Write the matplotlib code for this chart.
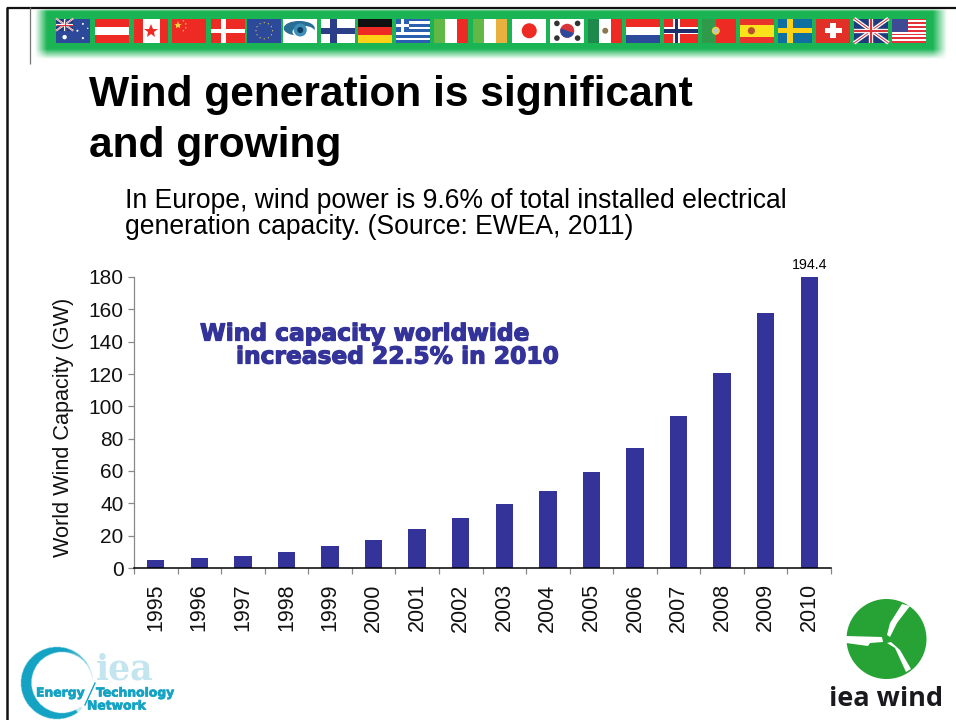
import numpy as np
import matplotlib
matplotlib.use("Agg")
import matplotlib.pyplot as plt
import matplotlib.patheffects as pe
from matplotlib.patches import Rectangle, Circle, Ellipse, Polygon

years = [str(y) for y in range(1995, 2011)]
capacity = [4.8, 6.1, 7.5, 10.2, 13.6, 17.4, 23.9, 31.1, 39.3, 47.6, 59.1, 74.0, 93.9, 120.7, 158.0, 194.4]
yticks = list(range(0, 181, 20))
flag_names = ["au", "at", "ca", "cn", "dk", "eu", "eye", "fi", "de", "gr", "it", "ie",
              "jp", "kr", "mx", "nl", "no", "pt", "es", "se", "ch", "uk", "us"]
flag_lefts = [56, 95, 134, 172, 211, 247, 283, 321, 358, 396, 434, 473,
              512, 550, 588, 626, 664, 702, 740, 778, 816, 854, 892]

plt.rcParams['font.family'] = ['Liberation Sans', 'DejaVu Sans']
W, H = 956, 720
fig = plt.figure(figsize=(W / 100, H / 100), dpi=100, facecolor='white')

ov = fig.add_axes([0, 0, 1, 1], zorder=1)
ov.set_axis_off()

RED, BLUE, NAVY = '#ee2a24', '#2d4a9a', '#1f3a7d'


def rgba_image(x0, x1, y0, y1, rgb, alpha_fn, z=1):
    xs, ys = np.meshgrid(np.arange(x0, x1, 0.5) + .25, np.arange(y0, y1, 0.5) + .25)
    a = alpha_fn(xs, ys)
    img = np.zeros(a.shape + (4,))
    img[..., :3] = matplotlib.colors.to_rgb(rgb)
    img[..., 3] = a
    ov.imshow(img, extent=(x0, x1, y1, y0), aspect='auto', zorder=z, interpolation='bilinear')


def banner_alpha(x, y):
    return (np.clip((x - 35) / 12, 0, 1) * np.clip((947 - x) / 14, 0, 1)
            * np.clip((59 - y) / 10, 0, 1) * np.clip((y - 9) / 2, 0, 1))


rgba_image(30, 950, 6, 62, '#1cb454', banner_alpha, z=1)


def flag(name, x, y=18.5, w=34.5, h=24.5):
    def r(a, b, c, d, col, z=3):
        ov.add_patch(Rectangle((x + a * w, y + b * h), (c - a) * w, (d - b) * h, fc=col, ec='none', zorder=z))

    def dot(a, b, rad, col, z=4):
        ov.add_patch(Ellipse((x + a * w, y + b * h), 2 * rad, 2 * rad, fc=col, ec='none', zorder=z))

    def ln(a, b, c, d, col, lw, z=4):
        ov.plot([x + a * w, x + c * w], [y + b * h, y + d * h], color=col, lw=lw, zorder=z, solid_capstyle='butt')

    def union(a0, b0, a1, b1, lw=1.0):
        r(a0, b0, a1, b1, NAVY)
        ln(a0, b0, a1, b1, 'white', lw * 2.2)
        ln(a0, b1, a1, b0, 'white', lw * 2.2)
        ln(a0, b0, a1, b1, '#d8343a', lw * .6, z=5)
        ln(a0, b1, a1, b0, '#d8343a', lw * .6, z=5)
        mx, my = (a0 + a1) / 2, (b0 + b1) / 2
        ln(mx, b0, mx, b1, 'white', lw * 2.6, z=5)
        ln(a0, my, a1, my, 'white', lw * 2.6, z=5)
        ln(mx, b0, mx, b1, '#d8343a', lw * 1.3, z=6)
        ln(a0, my, a1, my, '#d8343a', lw * 1.3, z=6)

    def cross(bg, fg, lw_v=.18, lw_h=.24, cx=.36, inner=None):
        r(0, 0, 1, 1, bg)
        r(cx - lw_v / 2, 0, cx + lw_v / 2, 1, fg)
        r(0, .5 - lw_h / 2, 1, .5 + lw_h / 2, fg)
        if inner:
            r(cx - lw_v / 4, 0, cx + lw_v / 4, 1, inner, z=4)
            r(0, .5 - lw_h / 4, 1, .5 + lw_h / 4, inner, z=4)

    if name == 'au':
        r(0, 0, 1, 1, BLUE)
        union(0, 0, .5, .5, .6)
        for a, b, s in [(.25, .76, 2.2), (.62, .5, 1), (.78, .22, 1), (.92, .4, .7), (.78, .8, 1.1)]:
            dot(a, b, s, 'white')
    elif name == 'at':
        r(0, 0, 1, 1, RED)
        r(0, .33, 1, .67, 'white')
    elif name == 'ca':
        r(0, 0, 1, 1, 'white')
        r(0, 0, .25, 1, RED)
        r(.75, 0, 1, 1, RED)
        ov.plot([x + .5 * w], [y + .5 * h], marker='*', ms=10, color=RED, mew=0, zorder=4)
    elif name == 'cn':
        r(0, 0, 1, 1, RED)
        ov.plot([x + .17 * w], [y + .27 * h], marker='*', ms=6, color='#f8d23a', mew=0, zorder=4)
        for a, b in [(.33, .1), (.4, .22), (.4, .38), (.33, .5)]:
            dot(a, b, .7, '#f8d23a')
    elif name == 'dk':
        cross(RED, 'white', .13, .17)
    elif name == 'eu':
        r(0, 0, 1, 1, BLUE)
        for t in np.arange(12) * np.pi / 6:
            dot(.5 + .24 * np.cos(t), .5 + .33 * np.sin(t), .6, '#e8d24a')
    elif name == 'eye':
        r(0, 0, 1, 1, 'white')
        ov.add_patch(Ellipse((x + .47 * w, y + .4 * h), w * .9, h * .6, fc='#2a6e96', ec='none', zorder=4))
        ov.add_patch(Ellipse((x + .6 * w, y + .55 * h), w * .65, h * .5, fc='white', ec='none', zorder=5))
        dot(.5, .47, 6.5, '#3d8fb8', z=6)
        dot(.5, .47, 3, '#0d3d60', z=7)
    elif name == 'fi':
        cross('white', '#2a3f87', .2, .26)
    elif name == 'de':
        r(0, 0, 1, .34, '#111111')
        r(0, .34, 1, .67, RED)
        r(0, .67, 1, 1, '#fcd116')
    elif name == 'gr':
        r(0, 0, 1, 1, 'white')
        for i in range(0, 9, 2):
            r(0, i / 9, 1, (i + 1) / 9, '#2b5fb0')
        r(0, 0, .38, 5 / 9, '#2b5fb0', z=4)
        r(.15, 0, .23, 5 / 9, 'white', z=5)
        r(0, 2 / 9, .38, 3 / 9, 'white', z=5)
    elif name == 'it':
        r(0, 0, .33, 1, '#62b846')
        r(.33, 0, .67, 1, 'white')
        r(.67, 0, 1, 1, RED)
    elif name == 'ie':
        r(0, 0, .33, 1, '#62b846')
        r(.33, 0, .67, 1, 'white')
        r(.67, 0, 1, 1, '#e8b03c')
    elif name == 'jp':
        r(0, 0, 1, 1, 'white')
        dot(.5, .5, 7.5, RED)
    elif name == 'kr':
        r(0, 0, 1, 1, 'white')
        ov.add_patch(Ellipse((x + .5 * w, y + .5 * h), 14, 14, fc='#d8343a', ec='none', zorder=4))
        ov.add_patch(matplotlib.patches.Wedge((x + .5 * w, y + .5 * h), 7, 20, 200, fc='#2d4a9a', ec='none', zorder=5))
        for a, b in [(.2, .2), (.8, .2), (.2, .8), (.8, .8)]:
            dot(a, b, 2.8, '#333333')
    elif name == 'mx':
        r(0, 0, .33, 1, '#1d8a4c')
        r(.33, 0, .67, 1, 'white')
        r(.67, 0, 1, 1, RED)
        dot(.5, .5, 3, '#8a7a50')
    elif name == 'nl':
        r(0, 0, 1, .34, RED)
        r(0, .34, 1, .67, 'white')
        r(0, .67, 1, 1, BLUE)
    elif name == 'no':
        cross(RED, 'white', .22, .3, inner='#1f2f6e')
    elif name == 'pt':
        r(0, 0, .4, 1, '#2f9a4a')
        r(.4, 0, 1, 1, RED)
        dot(.4, .5, 4, '#e8d24a')
        dot(.4, .5, 2.4, '#b8c4d0', z=5)
    elif name == 'es':
        r(0, 0, 1, 1, '#e8342a')
        r(0, .25, 1, .75, '#fbe31c')
        dot(.33, .5, 3.6, '#b8502a')
    elif name == 'se':
        cross('#0f6fa0', '#fcd116', .17, .22)
    elif name == 'ch':
        r(0, 0, 1, 1, '#e03028')
        r(.41, .2, .59, .8, 'white')
        r(.25, .39, .75, .61, 'white')
    elif name == 'uk':
        union(0, 0, 1, 1, 1.2)
    elif name == 'us':
        r(0, 0, 1, 1, 'white')
        for i in range(0, 13, 2):
            r(0, i / 13, 1, (i + 1) / 13, '#e5323a')
        r(0, 0, .45, 7 / 13, '#3e4a94', z=4)


for nm, lx in zip(flag_names, flag_lefts):
    flag(nm, lx)

ov.plot([7, 956], [7.5, 7.5], color='#111111', lw=1.6, zorder=6, solid_capstyle='butt')
ov.plot([7.5, 7.5], [7, 720], color='#111111', lw=1.8, zorder=6, solid_capstyle='butt')
ov.plot([30.5, 30.5], [7, 64], color='#777777', lw=0.9, zorder=6, solid_capstyle='butt')

ov.text(89, 95, "Wind generation is significant", fontsize=30.6, fontweight='bold', color='black', va='center', ha='left')
ov.text(89, 146, "and growing", fontsize=30.6, fontweight='bold', color='black', va='center', ha='left')
ov.text(125, 201, "In Europe, wind power is 9.6% of total installed electrical", fontsize=19.1, color='black', va='center', ha='left')
ov.text(125, 227, "generation capacity. (Source: EWEA, 2011)", fontsize=19.1, color='black', va='center', ha='left')

# IEA Energy Technology Network logo
cx, cy = 57.0, 683.0
def crescent_alpha(x, y):
    out = np.hypot(x - cx, y - cy) <= 36
    inn = np.hypot(x - (cx + 5), y - (cy - 0.5)) <= 30.5
    t = np.degrees(np.arctan2(-(y - cy), x - cx))
    fade = np.where((t < 75) & (t > -55), 0.25 + 0.75 * np.clip((t - 5) / 70, 0, 1), 1.0)
    fade = np.where((t <= 5) & (t > -45), 0.0, fade)
    return (out & ~inn) * fade
rgba_image(15, 100, 642, 720, '#15a3c4', crescent_alpha, z=2)
ov.plot([85, 95], [705, 683], color='#15a3c4', lw=1.0, zorder=2)
ov.text(96, 680, "iea", fontsize=25, family='DejaVu Serif', fontweight='bold', color='#c3e5ef', va='baseline', ha='left', zorder=2)
logo_fx = [pe.withStroke(linewidth=0.5, foreground='#15a3c4')]
for s, lx, ly in [("Energy", 36, 696.5), ("Technology", 96, 696.5), ("Network", 87, 709.5)]:
    ov.text(lx, ly, s, fontsize=8.9, family='DejaVu Sans', fontweight='bold', color='#15a3c4',
            va='baseline', ha='left', zorder=3, path_effects=logo_fx)

# IEA wind logo
ov.add_patch(Circle((886.5, 639), 40, fc='#27a234', ec='none', zorder=2))
for pts in [[(846, 636), (882, 637), (883, 642), (870, 643), (868, 646), (846, 643)],
            [(902, 604), (890, 623), (887, 635), (890, 637), (897, 623), (910, 606)],
            [(887, 643), (895, 648), (906, 672), (911, 669), (900, 650), (891, 642)]]:
    ov.add_patch(Polygon(pts, closed=True, fc='white', ec='none', zorder=3))
ov.text(886.5, 706, "iea wind", fontsize=19.5, family='Open Sans', fontweight='bold', color='#1a1a1e', va='baseline', ha='center', zorder=3)

ov.set_xlim(0, W)
ov.set_ylim(H, 0)

# chart
left, right, top, bottom = 134, 831, 277, 568
ax = fig.add_axes([left / W, 1 - bottom / H, (right - left) / W, (bottom - top) / H], zorder=2)
ax.patch.set_alpha(0)
x = np.arange(len(years))
ax.bar(x, capacity, width=0.4, color='#333399', edgecolor='none', clip_on=True)
ax.set_xlim(-0.5, len(years) - 0.5)
ax.set_ylim(0, 180)
ax.set_yticks(yticks)
ax.set_xticks(x)
ax.set_xticklabels(years, rotation=90, fontsize=15.5, color='#111111')
ax.set_xticks(np.arange(len(years) + 1) - 0.5, minor=True)
ax.tick_params(axis='x', which='major', length=0, pad=11)
ax.tick_params(axis='x', which='minor', length=4.5, width=0.9, color='#888888')
ax.tick_params(axis='y', length=4.5, width=0.9, color='#888888', labelsize=15, labelcolor='#111111', pad=3)
for s in ('top', 'right'):
    ax.spines[s].set_visible(False)
ax.spines['left'].set_color('#888888')
ax.spines['left'].set_linewidth(0.9)
ax.spines['bottom'].set_color('black')
ax.spines['bottom'].set_linewidth(1.1)
ax.set_ylabel("World Wind Capacity (GW)", fontsize=15.6, color='#111111')
ax.yaxis.set_label_coords((74 - left) / (right - left), 0.5 + (568 - 427 - 145.5) / 291)
ax.annotate(f"{capacity[-1]}", xy=(x[-1], 180), xytext=(0, 3.5), textcoords='offset points',
            ha='center', va='bottom', fontsize=10.2, color='black', annotation_clip=False)

ann_fx = [pe.withStroke(linewidth=0.9, foreground='#333399')]
ov.text(200, 334, "Wind capacity worldwide", fontsize=16.8, family='DejaVu Sans', fontweight='bold', color='#333399',
        va='center', ha='left', zorder=8, path_effects=ann_fx)
ov.text(236, 357, "increased 22.5% in 2010", fontsize=16.8, family='DejaVu Sans', fontweight='bold', color='#333399',
        va='center', ha='left', zorder=8, path_effects=ann_fx)

fig.savefig('out.png', dpi=100, facecolor='white')
